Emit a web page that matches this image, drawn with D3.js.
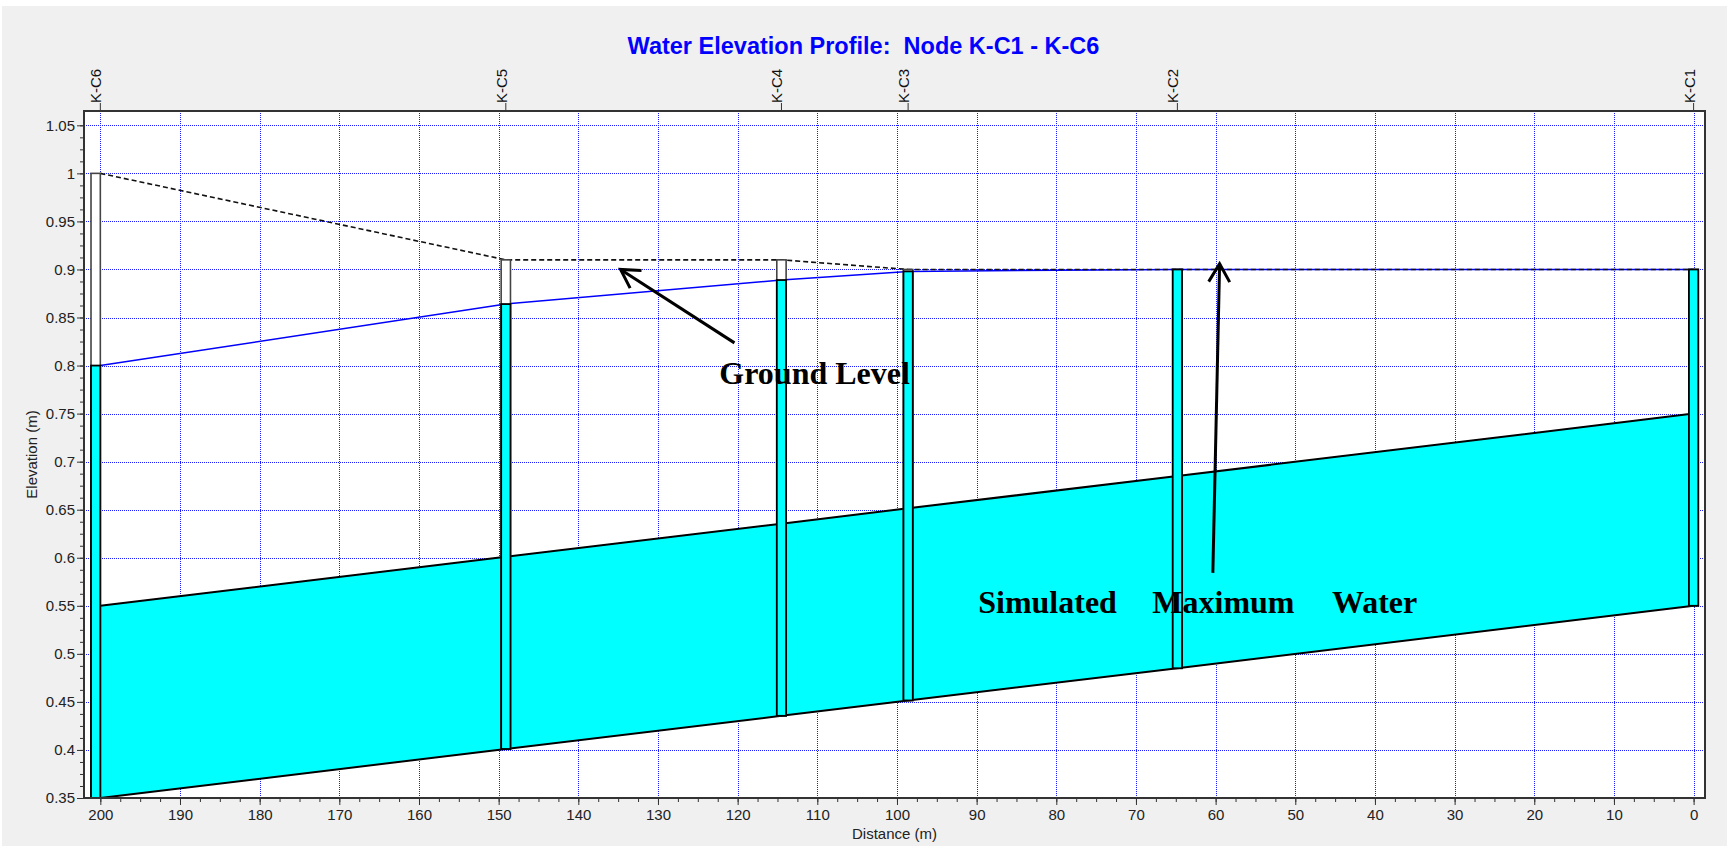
<!DOCTYPE html>
<html>
<head>
<meta charset="utf-8">
<script src="https://cdnjs.cloudflare.com/ajax/libs/d3/7.8.5/d3.min.js"></script>
<style>
  body { margin: 0; background: #fff; }
  svg { display: block; }
  text { font-family: "Liberation Sans", Arial, sans-serif; }
</style>
</head>
<body>
<div id="chart"></div>
<script>
// node data (distance in m, elevations in m)
var nodes      = ["K-C6", "K-C5", "K-C4", "K-C3", "K-C2", "K-C1"];
var station    = [200, 149.1, 114.5, 98.6, 64.8, 0];
var invert     = [0.35, 0.401, 0.4355, 0.4515, 0.485, 0.55];
var crown      = [0.55, 0.601, 0.6355, 0.6515, 0.685, 0.75];
var rim        = [1.0, 0.91, 0.91, 0.90, 0.90, 0.90];
var waterLevel = [0.80, 0.864, 0.889, 0.898, 0.90, 0.90];

var xTicks = [200, 190, 180, 170, 160, 150, 140, 130, 120, 110, 100, 90, 80, 70, 60, 50, 40, 30, 20, 10, 0];
var yTicks = [0.35, 0.4, 0.45, 0.5, 0.55, 0.6, 0.65, 0.7, 0.75, 0.8, 0.85, 0.9, 0.95, 1, 1.05];

var title = "Water Elevation Profile:  Node K-C1 - K-C6";

// annotation anchors, in data units
var arrows = [
  { tail: [120.4, 0.8236], head: [134.7, 0.900] },
  { tail: [60.35, 0.5843], head: [59.5, 0.906] }
];
var notes = [
  { text: "Ground Level", at: [122.3, 0.7806] },
  { text: "Simulated",    at: [89.8, 0.5424] },
  { text: "Maximum",      at: [67.95, 0.5424] },
  { text: "Water",        at: [45.4, 0.5424] }
];

(function () {
    var W = 1727, H = 846;
    var plot = { left: 84, right: 1705, top: 111, bottom: 798 };
    var mhWidth = 1.17; // manhole width in m

    var x = d3.scaleLinear().domain([202.05, -1.43]).range([plot.left, plot.right]);
    var y = d3.scaleLinear().domain([0.35, 1.0649]).range([plot.bottom, plot.top]);

    var svg = d3.select("#chart").append("svg")
        .attr("width", W)
        .attr("height", H);

    // window background
    svg.append("rect")
        .attr("x", 2).attr("y", 6)
        .attr("width", W - 2).attr("height", H - 6)
        .attr("fill", "#f0f0f0");

    // plot area
    svg.append("rect")
        .attr("x", plot.left).attr("y", plot.top)
        .attr("width", plot.right - plot.left).attr("height", plot.bottom - plot.top)
        .attr("fill", "#fff");

    // dotted blue grid
    var grid = svg.append("g")
        .attr("stroke", "#1a1aff")
        .attr("stroke-width", 1)
        .attr("stroke-dasharray", "1,1")
        .attr("shape-rendering", "crispEdges");
    grid.selectAll(".gx")
        .data(xTicks)
        .enter().append("line")
        .attr("x1", function (d) { return Math.round(x(d)) + 0.5; })
        .attr("x2", function (d) { return Math.round(x(d)) + 0.5; })
        .attr("y1", plot.top).attr("y2", plot.bottom);
    grid.selectAll(".gy")
        .data(yTicks)
        .enter().append("line")
        .attr("y1", function (d) { return Math.round(y(d)) + 0.5; })
        .attr("y2", function (d) { return Math.round(y(d)) + 0.5; })
        .attr("x1", plot.left).attr("x2", plot.right);

    var idx = d3.range(nodes.length);

    // pipe (full, cyan) between crown and invert
    var pipeArea = d3.area()
        .x(function (i) { return x(station[i]); })
        .y0(function (i) { return y(invert[i]); })
        .y1(function (i) { return y(crown[i]); });
    svg.append("path")
        .datum(idx)
        .attr("d", pipeArea)
        .attr("fill", "#00ffff");

    var lineOf = function (arr) {
        return d3.line()
            .x(function (i) { return x(station[i]); })
            .y(function (i) { return y(arr[i]); });
    };

    [invert, crown].forEach(function (arr) {
        svg.append("path")
            .datum(idx)
            .attr("d", lineOf(arr))
            .attr("fill", "none")
            .attr("stroke", "#000")
            .attr("stroke-width", 2);
    });

    // hydraulic grade line
    svg.append("path")
        .datum(idx)
        .attr("d", lineOf(waterLevel))
        .attr("fill", "none")
        .attr("stroke", "#0000ff")
        .attr("stroke-width", 1.5);

    // ground level (dashed)
    svg.append("path")
        .datum(idx)
        .attr("d", lineOf(rim))
        .attr("fill", "none")
        .attr("stroke", "#111")
        .attr("stroke-width", 1.6)
        .attr("stroke-dasharray", "5,3");

    // manholes: first one sits upstream of its station, the rest are centred
    function mhLeft(i) {
        return i === 0 ? x(station[i] + mhWidth) : x(station[i] + mhWidth / 2);
    }
    function mhRight(i) {
        return i === 0 ? x(station[i]) : x(station[i] - mhWidth / 2);
    }

    var mh = svg.selectAll(".manhole")
        .data(idx)
        .enter().append("g")
        .attr("class", "manhole");
    mh.append("rect")
        .attr("x", mhLeft)
        .attr("width", function (i) { return mhRight(i) - mhLeft(i); })
        .attr("y", function (i) { return y(rim[i]); })
        .attr("height", function (i) { return y(invert[i]) - y(rim[i]); })
        .attr("fill", "#fff")
        .attr("stroke", "#444")
        .attr("stroke-width", 1.6);
    mh.append("rect")
        .attr("x", mhLeft)
        .attr("width", function (i) { return mhRight(i) - mhLeft(i); })
        .attr("y", function (i) { return y(waterLevel[i]); })
        .attr("height", function (i) { return y(invert[i]) - y(waterLevel[i]); })
        .attr("fill", "#00ffff")
        .attr("stroke", "#000")
        .attr("stroke-width", 1.8);

    // plot border
    svg.append("rect")
        .attr("x", plot.left).attr("y", plot.top)
        .attr("width", plot.right - plot.left).attr("height", plot.bottom - plot.top)
        .attr("fill", "none")
        .attr("stroke", "#333")
        .attr("stroke-width", 2);

    // axes
    svg.append("g")
        .attr("transform", "translate(" + plot.left + ",0)")
        .call(d3.axisLeft(y)
            .tickValues(yTicks)
            .tickSize(7)
            .tickPadding(2)
            .tickFormat(function (d) { return String(+d.toFixed(2)); }));
    svg.append("g")
        .attr("transform", "translate(" + plot.left + ",0)")
        .call(d3.axisLeft(y)
            .tickValues(d3.range(0.35, 1.06, 0.0125))
            .tickSize(4)
            .tickFormat(""));

    svg.append("g")
        .attr("transform", "translate(0," + plot.bottom + ")")
        .call(d3.axisBottom(x)
            .tickValues(xTicks)
            .tickSize(7)
            .tickPadding(4)
            .tickFormat(d3.format("d")));
    svg.append("g")
        .attr("transform", "translate(0," + plot.bottom + ")")
        .call(d3.axisBottom(x)
            .tickValues(d3.range(0, 201, 2.5))
            .tickSize(4)
            .tickFormat(""));

    svg.selectAll(".domain").remove();
    svg.selectAll(".tick line").attr("stroke", "#333");
    svg.selectAll(".tick text")
        .attr("fill", "#222")
        .style("font-size", "15px")
        .style("font-family", "'Liberation Sans', Arial, sans-serif");

    // axis titles
    svg.append("text")
        .attr("x", (plot.left + plot.right) / 2)
        .attr("y", 839)
        .attr("text-anchor", "middle")
        .style("font-size", "15px")
        .attr("fill", "#222")
        .text("Distance (m)");
    svg.append("text")
        .attr("transform", "translate(37," + (plot.top + plot.bottom) / 2 + ") rotate(-90)")
        .attr("text-anchor", "middle")
        .style("font-size", "15px")
        .attr("fill", "#222")
        .text("Elevation (m)");

    // chart title
    svg.append("text")
        .attr("x", W / 2)
        .attr("y", 54)
        .attr("text-anchor", "middle")
        .style("font-size", "23.5px")
        .style("font-weight", "bold")
        .style("white-space", "pre")
        .attr("fill", "#0000ff")
        .text(title);

    // node labels along the top
    var top = svg.selectAll(".node-label")
        .data(idx)
        .enter().append("g")
        .attr("class", "node-label");
    top.append("line")
        .attr("x1", function (i) { return x(station[i]); })
        .attr("x2", function (i) { return x(station[i]); })
        .attr("y1", plot.top - 8)
        .attr("y2", plot.top)
        .attr("stroke", "#333");
    top.append("text")
        .attr("transform", function (i) {
            return "translate(" + (x(station[i]) + 1) + "," + (plot.top - 8) + ") rotate(-90)";
        })
        .style("font-size", "15px")
        .attr("fill", "#111")
        .text(function (i) { return nodes[i]; });

    // annotations
    var ann = svg.append("g");
    arrows.forEach(function (a) {
        var hx = x(a.head[0]), hy = y(a.head[1]);
        var tx = x(a.tail[0]), ty = y(a.tail[1]);
        var ang = Math.atan2(ty - hy, tx - hx);
        var len = 21, spread = Math.PI / 6;
        ann.append("line")
            .attr("x1", tx).attr("y1", ty).attr("x2", hx).attr("y2", hy)
            .attr("stroke", "#000").attr("stroke-width", 3);
        ann.append("path")
            .attr("d", "M" + (hx + len * Math.cos(ang - spread)) + "," + (hy + len * Math.sin(ang - spread)) +
                       "L" + hx + "," + hy +
                       "L" + (hx + len * Math.cos(ang + spread)) + "," + (hy + len * Math.sin(ang + spread)))
            .attr("fill", "none")
            .attr("stroke", "#000")
            .attr("stroke-width", 3);
    });
    ann.selectAll(".note")
        .data(notes)
        .enter().append("text")
        .attr("x", function (d) { return x(d.at[0]); })
        .attr("y", function (d) { return y(d.at[1]); })
        .style("font-family", "'Liberation Serif', 'Times New Roman', serif")
        .style("font-size", "32px")
        .style("font-weight", "bold")
        .attr("fill", "#000")
        .text(function (d) { return d.text; });
})();
</script>
</body>
</html>
